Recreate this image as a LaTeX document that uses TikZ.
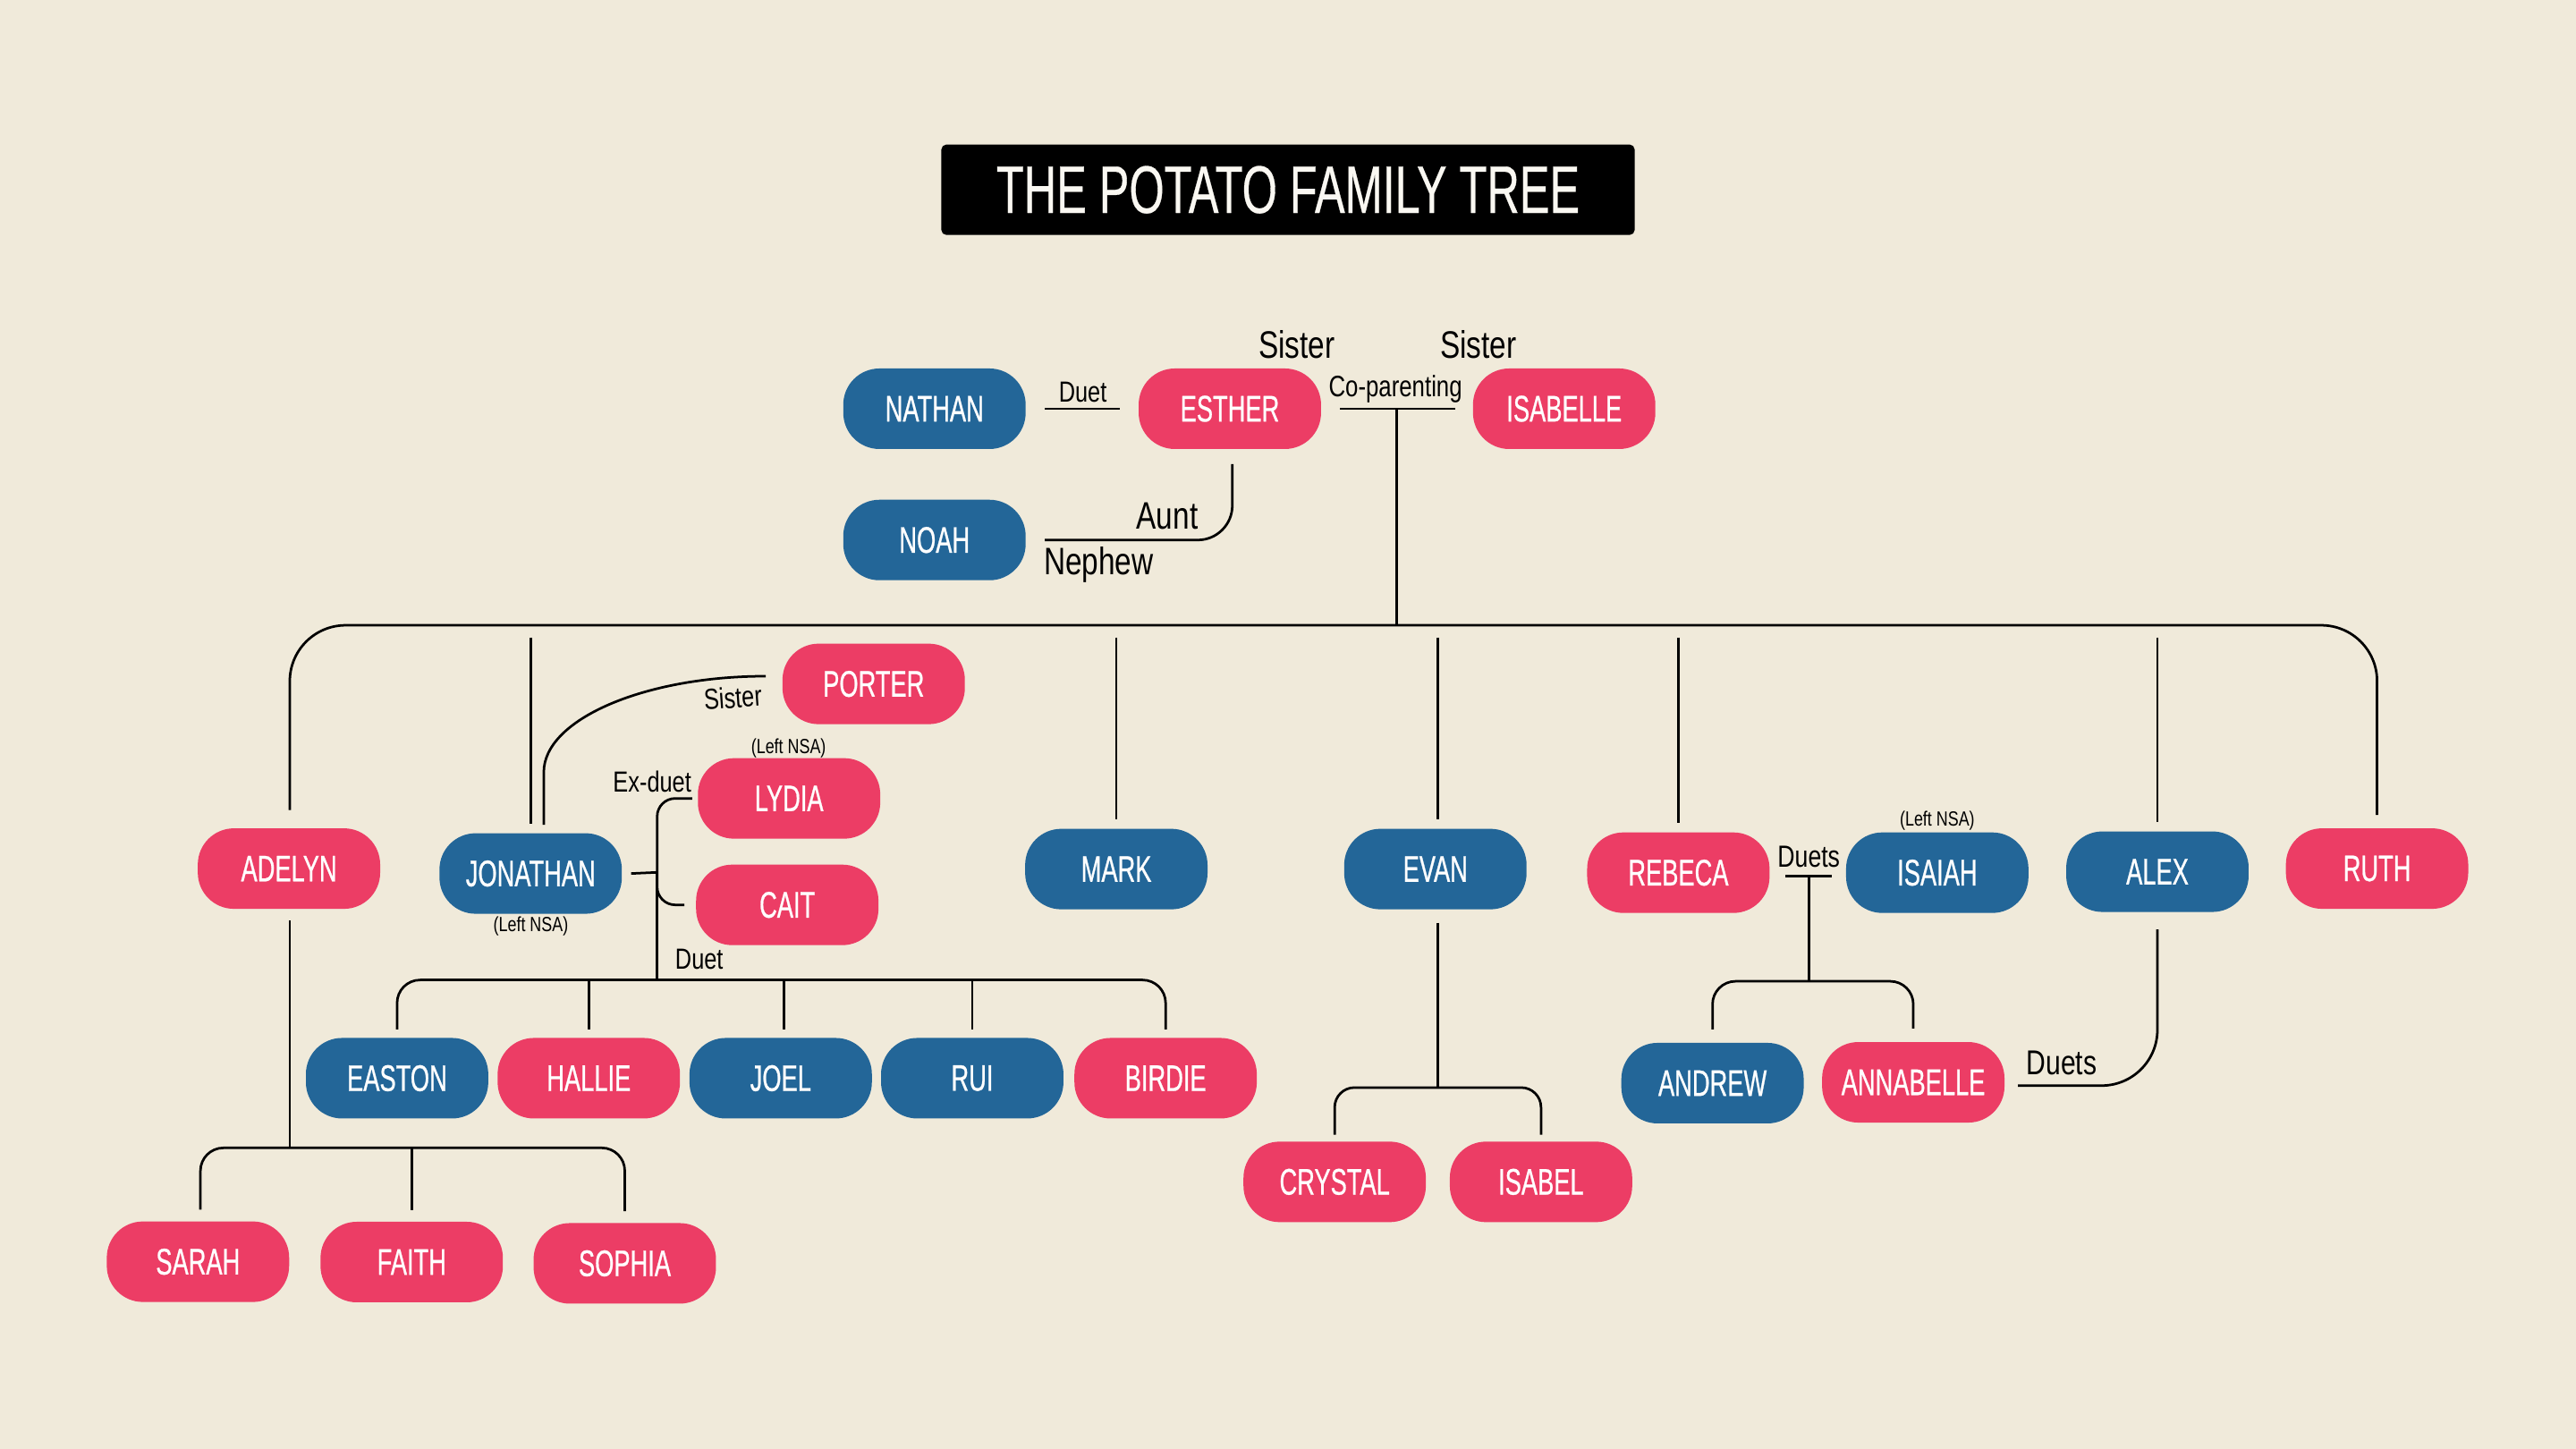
\documentclass[tikz,border=0pt]{standalone}
\usepackage{fontspec}
\setmainfont{Liberation Sans}
\newfontfamily\namefont[FakeStretch=0.66,FakeBold=0.6]{Liberation Sans}
\newfontfamily\titlefont[FakeStretch=0.67,FakeBold=0.4]{Liberation Sans}
\newfontfamily\lblfont[FakeStretch=0.78]{Liberation Sans}
\newcommand\myfs[1]{\fontsize{#1}{#1}\selectfont}
\definecolor{bgc}{RGB}{240,234,218}
\definecolor{pinkc}{RGB}{236,61,101}
\definecolor{bluec}{RGB}{35,102,152}
\definecolor{offwhite}{RGB}{250,248,242}
\tikzset{
  pnode/.style={rounded corners=22pt, minimum width=111pt, minimum height=49pt, inner sep=0pt,
    text=white, fill=pinkc, font=\namefont\myfs{22.5}},
  bnode/.style={pnode, fill=bluec},
  conn/.style={line width=1.5pt, black},
  lbl/.style={anchor=base, inner sep=0pt, text=black, font=\lblfont\myfs{17.7}},
  biglbl/.style={lbl, font=\lblfont\myfs{23.3}},
  nsa/.style={lbl, font=\lblfont\myfs{12.5}}
}
\begin{document}
\begin{tikzpicture}[x=1pt, y=-1pt]
\useasboundingbox (0,0) rectangle (1568,882);
\fill[bgc] (0,0) rectangle (1568,882);

% title
\node[fill=black, rounded corners=3pt, minimum width=422pt, minimum height=55pt, inner sep=0pt,
  text=offwhite, font=\titlefont\myfs{41}] (title) at (784,115.5) {THE POTATO FAMILY TREE};

% nodes
\node[bnode] (nathan) at (568.8,248.8) {NATHAN};
\node[pnode] (esther) at (748.6,248.8) {ESTHER};
\node[pnode] (isabelle) at (952.1,248.8) {ISABELLE};
\node[bnode] (noah) at (568.8,328.7) {NOAH};
\node[pnode] (porter) at (531.8,416.3) {PORTER};
\node[pnode] (lydia) at (480.3,486) {LYDIA};
\node[pnode] (cait) at (479.2,550.8) {CAIT};
\node[pnode] (adelyn) at (175.9,528.7) {ADELYN};
\node[bnode] (jonathan) at (323,531.7) {JONATHAN};
\node[bnode] (mark) at (679.5,529) {MARK};
\node[bnode] (evan) at (873.7,529) {EVAN};
\node[pnode] (rebeca) at (1021.6,531.2) {REBECA};
\node[bnode] (isaiah) at (1179.2,531.2) {ISAIAH};
\node[bnode] (alex) at (1313.2,530.6) {ALEX};
\node[pnode] (ruth) at (1446.9,528.7) {RUTH};
\node[bnode] (easton) at (241.7,656.3) {EASTON};
\node[pnode] (hallie) at (358.4,656.3) {HALLIE};
\node[bnode] (joel) at (475.2,656.3) {JOEL};
\node[bnode] (rui) at (591.8,656.3) {RUI};
\node[pnode] (birdie) at (709.5,656.3) {BIRDIE};
\node[bnode] (andrew) at (1042.4,659.3) {ANDREW};
\node[pnode] (annabelle) at (1164.6,658.8) {ANNABELLE};
\node[pnode] (crystal) at (812.4,719.4) {CRYSTAL};
\node[pnode] (isabel) at (938,719.4) {ISABEL};
\node[pnode] (sarah) at (120.5,768) {SARAH};
\node[pnode] (faith) at (250.6,768.2) {FAITH};
\node[pnode] (sophia) at (380.3,769) {SOPHIA};

% junction coordinates
\coordinate (cp) at (850.1,248.8);
\coordinate (bar) at (850.1,380.6);
\coordinate (bartop) at (850.1,388);
\coordinate (jb) at (400,531);
\coordinate (kidsbar) at (400,596.5);
\coordinate (adbar) at (176.4,698.7);
\coordinate (evbar) at (875,662);
\coordinate (rb) at (1101,533.4);
\coordinate (rbbar) at (1101,597.3);

% top relations
\draw[conn] ([xshift=11.5pt]nathan.east) -- ([xshift=-11pt]esther.west);
\draw[conn] ([xshift=11.5pt]esther.east) -- ([xshift=-10.5pt]isabelle.west);
\draw[conn] (cp) -- (bar);
\draw[conn, rounded corners=21pt] ([xshift=1.5pt,yshift=-9pt]esther.south) |- ([xshift=11.5pt]noah.east);

% main bar
\draw[conn, rounded corners=34pt] ([xshift=0.5pt,yshift=11pt]adelyn.north) |- (bar) -| ([yshift=8pt]ruth.north);
\draw[conn] (jonathan.north |- bartop) -- ([yshift=5.5pt]jonathan.north);
\draw[conn] (mark.north |- bartop) -- ([yshift=5.5pt]mark.north);
\draw[conn] ([xshift=1.3pt]evan.north |- bartop) -- ([xshift=1.3pt,yshift=5.5pt]evan.north);
\draw[conn] (rebeca.north |- bartop) -- ([yshift=5.5pt]rebeca.north);
\draw[conn] (alex.north |- bartop) -- ([yshift=5.5pt]alex.north);

% Porter - Jonathan
\draw[conn] ([xshift=-10pt,yshift=4.7pt]porter.west) .. controls +(-74,0) and +(0,-32) .. ([xshift=8pt,yshift=37pt]jonathan.north) -- ([xshift=8pt,yshift=5pt]jonathan.north);

% Jonathan - Lydia / Cait
\draw[conn] ([xshift=5.5pt]jonathan.east) -- (jb);
\draw[conn, rounded corners=11pt] ([xshift=-3.3pt]lydia.west) -| (jb) |- ([xshift=-7pt]cait.west);
\draw[conn] (jb) -- (kidsbar);
\draw[conn, rounded corners=14pt] ([yshift=5pt]easton.north) |- (kidsbar) -| ([yshift=5pt]birdie.north);
\draw[conn] (hallie.north |- kidsbar) -- ([yshift=5pt]hallie.north);
\draw[conn] ([xshift=2pt]joel.north |- kidsbar) -- ([xshift=2pt,yshift=5pt]joel.north);
\draw[conn] (rui.north |- kidsbar) -- ([yshift=5pt]rui.north);

% Adelyn children
\draw[conn] ([xshift=0.5pt,yshift=-7pt]adelyn.south) -- (adbar);
\draw[conn, rounded corners=14pt] ([xshift=1.5pt,yshift=7pt]sarah.north) |- (adbar) -| ([yshift=7pt]sophia.north);
\draw[conn] (faith.north |- adbar) -- ([yshift=7pt]faith.north);

% Evan children
\draw[conn] ([xshift=1.3pt,yshift=-8pt]evan.south) -- (evbar);
\draw[conn, rounded corners=12pt] ([yshift=4pt]crystal.north) |- (evbar) -| ([yshift=4pt]isabel.north);

% Rebeca / Isaiah
\draw[conn] ([xshift=9.4pt,yshift=-2.2pt]rebeca.east) -- ([xshift=-8.4pt,yshift=-2.2pt]isaiah.west);
\draw[conn] (rb) -- (rbbar);
\draw[conn, rounded corners=14pt] ([yshift=8pt]andrew.north) |- (rbbar) -| ([yshift=8pt]annabelle.north);

% Alex - Annabelle
\draw[conn, rounded corners=34pt] ([yshift=-10.5pt]alex.south) |- ([xshift=8pt,yshift=-2pt]annabelle.east);

% labels
\node[lbl] (lduet) at (659.1,245) {Duet};
\node[lbl, font=\lblfont\myfs{18}] (lcopar) at (849.4,241.7) {Co-parenting};
\node[biglbl] (lsis1) at (789.3,217.8) {Sister};
\node[biglbl] (lsis2) at (899.8,217.8) {Sister};
\node[biglbl] (launt) at (710.5,322) {Aunt};
\node[biglbl] (lneph) at (668.8,350) {Nephew};
\node[lbl, rotate=4] (lsis3) at (446.5,431) {Sister};
\node[lbl] (lexduet) at (397,482) {Ex-duet};
\node[lbl] (lduet2) at (425.6,589.8) {Duet};
\node[lbl, font=\lblfont\myfs{18.6}] (lduets1) at (1101,528) {Duets};
\node[lbl, font=\lblfont\myfs{21}] (lduets2) at (1254.9,654) {Duets};
\node[nsa] (nsa1) at (480,458.5) {(Left NSA)};
\node[nsa] (nsa2) at (323.1,567) {(Left NSA)};
\node[nsa] (nsa3) at (1179.2,503) {(Left NSA)};
\end{tikzpicture}
\end{document}
